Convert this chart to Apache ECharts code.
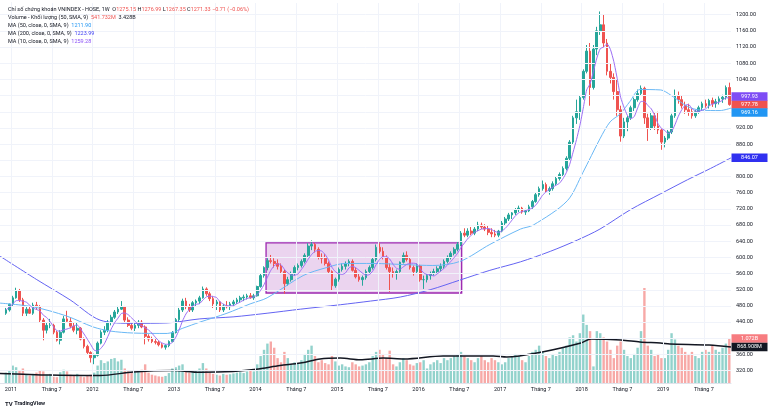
<!DOCTYPE html>
<html><head><meta charset="utf-8">
<script src="https://cdn.jsdelivr.net/npm/echarts@6/dist/echarts.min.js"></script>
<style>html,body{margin:0;padding:0;background:#fff}#c{width:768px;height:412px}</style>
</head><body><div id="c"></div>
<script>
// Months are counted from Jan 2011 (= 0). Candles are half-month periods starting Dec 2010.
const firstCandleMonth = -0.75;
const periodStep = 0.5;

// [open, high, low, close]
const candles2010 = [[462,475,458,470],[470,486,466,484]];
const candles2011 = [
[485,505,480,500],[500,525,498,518],[518,522,490,495],[495,500,455,462],
[462,478,455,472],[472,480,460,462],[462,488,458,482],[482,490,470,478],
[478,482,440,445],[445,450,395,420],[420,440,412,432],[432,448,425,432],
[432,436,410,415],[415,418,392,395],[395,420,385,415],[415,455,412,448],
[448,468,440,442],[442,450,425,430],[430,440,415,420],[420,438,410,425],
[425,428,395,398],[398,402,375,380],[380,384,360,365],[365,368,340,352]];
const candles2012 = [
[352,362,336,358],[358,392,355,388],[388,420,385,415],[415,430,408,420],
[420,445,415,440],[440,458,432,452],[452,470,448,465],[465,480,460,472],
[472,492,470,478],[478,480,440,445],[445,452,428,432],[432,438,420,425],
[425,440,418,432],[432,445,425,440],[440,445,425,428],[428,432,385,405],
[405,410,392,398],[398,404,388,392],[392,398,385,390],[390,394,380,384],
[384,388,375,378],[378,385,372,382],[382,395,378,392],[392,418,390,414]];
const candles2013 = [
[414,450,412,446],[446,475,440,470],[470,498,465,492],[492,500,472,478],
[478,485,465,470],[470,492,465,488],[488,496,480,492],[492,505,485,500],
[500,528,498,522],[522,526,505,510],[510,515,492,498],[498,505,475,485],
[485,495,470,490],[490,492,465,470],[470,485,465,480],[480,492,474,478],
[478,490,470,485],[485,495,480,490],[490,500,485,495],[495,505,488,500],
[500,508,492,502],[502,510,496,505],[505,512,498,500],[500,510,495,505]];
const candles2014 = [
[505,530,503,528],[528,560,525,555],[555,578,550,575],[575,598,568,592],
[592,606,585,590],[590,598,575,585],[585,595,570,578],[578,585,560,565],
[565,570,510,535],[535,552,530,545],[545,565,540,560],[560,580,555,575],
[575,585,568,580],[580,595,575,590],[590,610,585,605],[605,635,600,628],
[628,642,618,632],[632,636,612,620],[620,625,595,600],[600,610,585,598],
[598,608,580,585],[585,590,560,565],[565,568,518,530],[530,550,525,546]];
const candles2015 = [
[546,575,540,570],[570,585,565,578],[578,590,570,585],[585,595,578,590],
[590,595,565,568],[568,575,548,552],[552,560,540,545],[545,555,530,550],
[550,570,545,565],[565,580,560,575],[575,600,570,595],[595,632,590,625],
[625,635,610,615],[615,625,595,600],[600,605,570,575],[575,585,515,565],
[565,575,550,560],[560,570,545,565],[565,590,562,588],[588,612,585,605],
[605,615,590,595],[595,600,570,575],[575,580,555,565],[565,585,560,579]];
const candles2016 = [
[579,582,540,545],[545,555,522,545],[545,560,538,555],[555,565,545,560],
[560,572,555,565],[565,578,558,572],[572,585,565,578],[578,595,572,590],
[590,605,585,600],[600,615,595,610],[610,625,605,620],[620,640,615,632],
[632,665,628,660],[660,672,650,655],[655,672,650,665],[665,675,655,660],
[660,675,655,670],[670,688,665,680],[680,686,670,675],[675,682,665,670],
[670,678,655,662],[662,672,650,658],[658,668,650,655],[655,668,650,665]];
const candles2017 = [
[665,690,662,685],[685,700,680,695],[695,710,690,705],[705,712,695,710],
[710,722,705,718],[718,728,712,722],[722,725,708,712],[712,720,705,715],
[715,730,712,725],[725,742,720,738],[738,760,735,755],[755,775,750,770],
[770,790,765,780],[780,785,760,765],[765,775,755,770],[770,788,765,782],
[782,800,778,795],[795,810,790,805],[805,825,800,820],[820,850,815,845],
[845,890,840,885],[885,950,880,945],[945,990,930,960],[960,1000,940,995]];
const candles2018 = [
[995,1065,990,1060],[1060,1125,1055,1110],[1110,1130,975,1020],[1020,1125,1015,1115],
[1115,1170,1100,1160],[1160,1208,1150,1175],[1175,1200,1120,1130],[1130,1140,1050,1060],
[1060,1080,1030,1045],[1045,1055,990,1010],[1010,1040,950,965],[965,975,886,900],
[900,945,895,935],[935,950,912,945],[945,975,940,970],[970,995,962,990],
[990,1015,985,1005],[1005,1025,1000,1018],[1018,1022,930,945],[945,955,888,920],
[920,960,915,950],[950,958,915,925],[925,960,905,915],[915,920,866,885]];
const candles2019 = [
[885,900,872,895],[895,915,890,910],[910,955,905,950],[950,1015,945,1000],
[1000,1010,980,990],[990,1000,968,975],[975,985,955,965],[965,980,950,960],
[960,968,943,950],[950,965,945,960],[960,975,955,970],[970,985,962,980],
[980,990,970,975],[975,992,968,988],[988,995,972,980],[980,992,970,985],
[985,998,978,992],[992,1002,982,996],[996,1025,990,1020],[1020,1032,975,977.78]];

// volume, millions
const volume2010 = [250,300];
const volume2011 = [420,380,300,350,200,180,220,250,300,280,200,220,150,140,260,320,280,200,180,220,160,140,170,200];
const volume2012 = [250,420,550,480,520,580,600,520,560,350,280,250,260,300,320,450,250,200,180,160,150,170,240,350];
const volume2013 = [380,420,450,300,250,280,300,350,480,350,250,220,200,180,220,200,210,230,250,260,240,280,300,280];
const volume2014 = [450,650,800,950,1000,850,600,500,750,600,450,500,480,550,700,800,900,650,500,550,480,450,650,520];
const volume2015 = [420,450,400,380,500,450,400,420,450,500,650,750,800,700,600,780,450,400,500,600,550,450,420,480];
const volume2016 = [500,550,350,450,500,550,480,600,550,600,650,700,750,650,600,550,500,600,650,550,500,600,550,500];
const volume2017 = [450,500,600,650,700,650,550,500,650,750,800,900,750,650,600,700,650,750,850,900,1100,1150,1000,1200];
const volume2018 = [1650,1400,1250,400,1250,1200,1100,1000,800,600,900,1000,800,650,600,700,850,1250,2290,900,800,650,700,600];
const volume2019 = [600,800,1200,1050,900,850,750,700,750,650,600,750,800,750,900,800,750,850,950,1072];

// indicator lines: [month, value]
const ma50Points = [[-1.62,487],[3.2,478],[8.2,455],[12.1,428],[14.6,418],[18,413],[23,412],[25.3,425],[27.8,440],[31.8,462],[35.2,485],[37.7,500],[43,555],[46.5,575],[49.2,585],[53.3,585],[58.3,582],[62.1,580],[66.1,590],[70.5,632],[75,670],[76.9,680],[81.9,740],[84.2,810],[86.7,893],[88.2,935],[89.7,955],[91.1,985],[92.6,1015],[95.6,1014],[97.5,997],[99.6,973],[101.5,964],[104.4,963],[106,969.16]];
const ma200Points = [[-1.62,603],[3.8,545],[8.7,495],[13.1,445],[18,437],[23,438],[27.8,448],[32.7,453],[37.7,462],[42.6,472],[48.5,483],[52.9,492],[57.3,502],[61.7,520],[66.1,544],[70.5,568],[75,589],[79.4,615],[83.4,643],[86.7,670],[91.2,718],[95.6,757],[99.6,792],[103,820],[106,846.07]];
const volMaPoints = [[-1.62,230],[5.7,190],[13.1,180],[18,265],[23.9,300],[27.8,260],[32.7,280],[36.1,330],[39.6,420],[42.6,480],[45.5,580],[48.5,600],[51.4,560],[54.8,600],[57.9,578],[63.6,650],[71,650],[73,626],[78.2,747],[83.9,964],[85.4,1060],[89.8,1036],[92.6,988],[95.6,964],[97,940],[102.8,916],[106,868.908]];

const yearLabels = ['2011','2012','2013','2014','2015','2016','2017','2018','2019'];
const midYearLabel = 'Tháng 7';
const priceTicks = [320,360,400,440,480,520,560,600,640,680,720,760,800,840,880,920,960,1000,1040,1080,1120,1160,1200];
const boxMonths = [37.55, 66.35];
const boxPrices = [512, 636];
const lastMa10 = 997.93, lastClose = 977.78, lastMa50 = 969.16, lastMa200 = 846.07;
const lastVolume = 1072, lastVolMa = 868.908;

const FONT = 'Roboto, "Liberation Sans", Arial, sans-serif';
const X_MIN = -1.62, X_MAX = 106.0;
const UP = '#26a69a', DOWN = '#ef5350';

const candles = [].concat(candles2010,candles2011,candles2012,candles2013,candles2014,candles2015,candles2016,candles2017,candles2018,candles2019);
const volumes = [].concat(volume2010,volume2011,volume2012,volume2013,volume2014,volume2015,volume2016,volume2017,volume2018,volume2019);
const candleX = k => firstCandleMonth + k * periodStep;
const candleData = candles.map((c,k) => [candleX(k), c[0], c[3], c[2], c[1]]);
const closes = candles.map(c => c[3]);
const ma10Data = closes.map((_,k) => {
  const s = closes.slice(Math.max(0,k-4), k+1);
  return [candleX(k), s.reduce((a,b)=>a+b,0)/s.length];
});
const volData = volumes.map((v,k) => ({value:[candleX(k), v], itemStyle:{color: candles[k][3] >= candles[k][0] ? 'rgba(38,166,154,0.5)' : 'rgba(239,83,80,0.5)'}}));
const monthTicks = yearLabels.flatMap((y,i) => [i*12, i*12+6]);

function tag(y, text, color, dy, textColor) {
  return {coord:[X_MAX, y], symbol:'rect', symbolSize:[36,8.5], symbolOffset:[18.5, dy],
    itemStyle:{color:color}, label:{show:true, position:'inside', formatter:text, color:textColor||'#fff', fontSize:5.5, fontFamily:FONT}};
}
function tagPoint(items){ return {silent:true, animation:false, z:20, data:items}; }

const rich = {
  t:{color:'#131722', fontSize:5.5, fontFamily:FONT},
  r:{color:'#ef5350', fontSize:5.5, fontFamily:FONT},
  b:{color:'#2196f3', fontSize:5.5, fontFamily:FONT},
  v:{color:'#3f3ff2', fontSize:5.5, fontFamily:FONT},
  p:{color:'#8a4ff6', fontSize:5.5, fontFamily:FONT},
  k:{color:'#131722', fontSize:6, fontWeight:'bold', fontFamily:FONT}
};
const legendRows = [
  '{t|Chỉ số chứng khoán VNINDEX - HOSE, 1W  O}{r|1275.15}{t| H}{r|1276.99}{t| L}{r|1267.35}{t| C}{r|1271.33}{r| −0.71 (−0.06%)}',
  '{t|Volume - Khối lượng (50, SMA, 9)  }{r|541.732M}{t|  3.428B}',
  '{t|MA (50, close, 0, SMA, 9)  }{b|1211.90}',
  '{t|MA (200, close, 0, SMA, 9)  }{v|1223.99}',
  '{t|MA (10, close, 0, SMA, 9)  }{p|1259.28}'
];
const rowTops = [6.5, 14.8, 22.6, 30.5, 38.3];

const chart = echarts.init(document.getElementById('c'), null, {renderer:'canvas', width:768, height:412});
chart.setOption({
  animation:false,
  backgroundColor:'#ffffff',
  title: legendRows.map((r,i) => ({left:8, top:rowTops[i], padding:0, text:r, textStyle:{fontSize:5.5, fontWeight:'normal', fontFamily:FONT, rich:rich}}))
    .concat([{left:5, top:401, padding:0, text:'{k|TV} {t|TradingView}', textStyle:{fontSize:5.5, rich:rich}}]),
  grid:{left:0, right:37, top:3, bottom:29, containLabel:false},
  xAxis:{type:'value', min:X_MIN, max:X_MAX,
    axisLine:{show:true, lineStyle:{color:'#e0e3eb'}}, axisTick:{show:false}, splitLine:{show:false},
    axisLabel:{customValues:monthTicks, formatter:v => (v % 12 === 0 ? yearLabels[v/12] : midYearLabel), color:'#131722', fontSize:5.5, fontFamily:FONT, margin:4}},
  yAxis:[
    {type:'value', position:'right', min:289.5, max:1228.9, scale:true,
     axisLine:{show:true, lineStyle:{color:'#e0e3eb'}}, axisTick:{show:false}, splitLine:{show:false},
     axisLabel:{customValues:priceTicks, formatter:v => v.toFixed(2), color:'#131722', fontSize:5.5, fontFamily:FONT, margin:5}},
    {type:'value', min:0, max:9158, show:false, splitLine:{show:false}}
  ],
  series:[
    {type:'line', name:'grid', data:[], z:0, silent:true,
     markLine:{silent:true, symbol:'none', animation:false, label:{show:false}, lineStyle:{color:'#f0f3fa', width:1, type:'solid'},
       data: priceTicks.map(v => ({yAxis:v})).concat(monthTicks.map(m => ({xAxis:m})))}},
    {type:'bar', name:'volume', xAxisIndex:0, yAxisIndex:1, data:volData, barWidth:2.4, z:1, silent:true,
     markPoint: tagPoint([tag(lastVolume, '1.072B', '#f77c80', 0)])},
    {type:'line', name:'volMA', yAxisIndex:1, data:volMaPoints, symbol:'none', smooth:0.3, z:2, silent:true,
     lineStyle:{color:'#131722', width:1.5},
     markPoint: tagPoint([tag(lastVolMa, '868.908M', '#131722', 0)])},
    {type:'candlestick', name:'VNINDEX', data:candleData, encode:{x:0, y:[1,2,3,4]}, barWidth:2.2, z:3, silent:true,
     itemStyle:{color:UP, color0:DOWN, borderColor:UP, borderColor0:DOWN, borderWidth:1},
     markArea:{silent:true, itemStyle:{color:'rgba(156,39,176,0.2)', borderColor:'#9c27b0', borderWidth:1.3},
       data:[[{xAxis:boxMonths[0], yAxis:boxPrices[0]},{xAxis:boxMonths[1], yAxis:boxPrices[1]}]]},
     markPoint: tagPoint([tag(lastClose, '977.78', '#ef5350', 0)])},
    {type:'line', name:'MA200', data:ma200Points, symbol:'none', smooth:0.3, z:4, silent:true,
     lineStyle:{color:'#6464f2', width:1},
     markPoint: tagPoint([tag(lastMa200, '846.07', '#3030f0', 0)])},
    {type:'line', name:'MA50', data:ma50Points, symbol:'none', smooth:0.3, z:4, silent:true,
     lineStyle:{color:'#6ab8f5', width:1},
     markPoint: tagPoint([tag(lastMa50, '969.16', '#2196f3', 4.5)])},
    {type:'line', name:'MA10', data:ma10Data, symbol:'none', smooth:0.2, z:5, silent:true,
     lineStyle:{color:'#9c6ef4', width:1},
     markPoint: tagPoint([tag(lastMa10, '997.93', '#7e4cf5', 0)])}
  ]
});
</script></body></html>
